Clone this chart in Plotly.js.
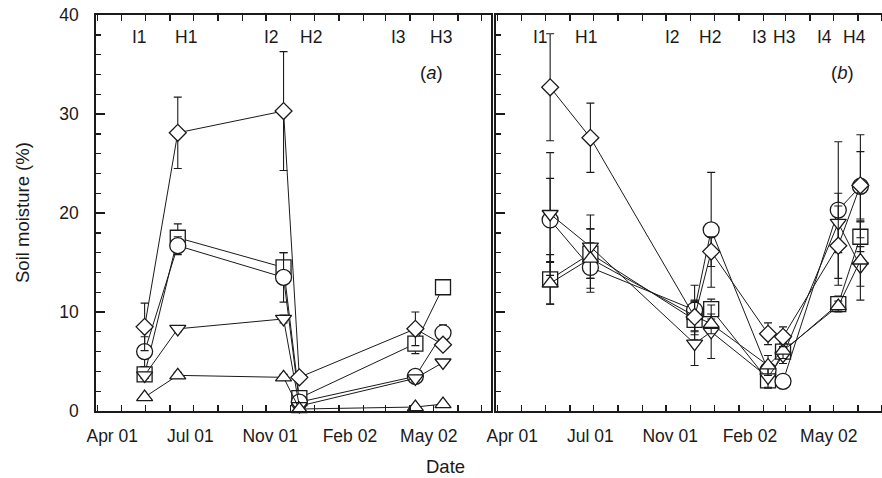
<!DOCTYPE html>
<html>
<head>
<meta charset="utf-8">
<script src="https://cdn.plot.ly/plotly-3.0.1.min.js"></script>
<style>
html,body{margin:0;padding:0;overflow:hidden;background:#fff;}
#chart{width:892px;height:478px;}
</style>
</head>
<body>
<div id="chart"></div>
<script>
// ---------- data ----------
// Panel (a)
const datesA = ['2001-04-30','2001-06-11','2001-10-23','2001-11-12','2002-04-08','2002-05-13'];
const diamondA = [8.5, 28.1, 30.3, 3.4, 8.3, 6.7];
const circleA  = [6.0, 16.7, 13.5, 0.9, 3.5, 7.9];
const squareA  = [3.7, 17.5, 14.5, 1.3, 6.8, 12.5];
const downA    = [3.6, 8.3, 9.3, 0.5, 3.3, 4.9];
const upA      = [1.4, 3.6, 3.4, 0.2, 0.4, 0.7];
const diamondAErr = [2.4, 3.6, 6.0, 0.2, 1.7, 0.2];
const circleAErr  = [1.5, 0.9, 2.5, 0.2, 0.4, 0.8];
const squareAErr  = [0.7, 1.4, 1.5, 0.2, 1.0, 0.2];
const downAErr    = [0.3, 0.3, 0.4, 0.1, 0.3, 0.3];
const upAErr      = [0.2, 0.3, 0.3, 0.1, 0.1, 0.2];

// Panel (b)
const datesB = ['2001-05-07','2001-06-27','2001-11-06','2001-11-27','2002-02-07','2002-02-26','2002-05-07','2002-06-04'];
const diamondB = [32.7, 27.6, 9.5, 16.1, 7.8, 7.5, 16.7, 22.8];
const circleB  = [19.3, 14.5, 10.2, 18.3, 4.1, 3.0, 20.3, 22.7];
const downB    = [19.9, 16.6, 6.8, 8.0, 3.4, 5.6, 19.0, 14.6];
const squareB  = [13.3, 15.9, 9.2, 10.3, 3.1, 6.0, 10.8, 17.6];
const upB      = [12.9, 15.4, 9.6, 8.8, 4.6, 6.1, 10.6, 15.2];
const diamondBErr = [5.4, 3.5, 1.5, 1.5, 1.1, 1.0, 4.0, 3.4];
const circleBErr  = [4.2, 2.5, 2.5, 5.8, 0.8, 0.5, 6.9, 5.2];
const downBErr    = [6.2, 3.2, 2.2, 2.7, 1.0, 0.8, 3.0, 2.0];
const squareBErr  = [2.5, 2.5, 2.0, 1.0, 0.8, 0.8, 0.8, 1.5];
const upBErr      = [2.1, 3.0, 1.5, 1.0, 1.0, 0.8, 0.5, 4.0];

// axis tick labels
const tickText = ['Apr 01','Jul 01','Nov 01','Feb 02','May 02'];
const yTickVals = [0, 10, 20, 30, 40];

// event labels
const eventsA = ['I1','H1','I2','H2','I3','H3'];
const eventsB = ['I1','H1','I2','H2','I3','H3','I4','H4'];

// ---------- layout positions ----------
const tickPos = ['2001-03-20','2001-06-27','2001-10-06','2002-01-15','2002-04-25'];
const eventPosA = ['2001-04-23','2001-06-21','2001-10-08','2001-11-27','2002-03-18','2002-05-10'];
const eventPosB = ['2001-04-25','2001-06-22','2001-10-09','2001-11-26','2002-01-27','2002-02-27','2002-04-20','2002-05-27'];
const xRange = ['2001-02-27 10:00','2002-07-12 19:00'];

const INK = '#1a1a1a';
const FONT = 'Liberation Sans, Arial, Helvetica, sans-serif';

function series(x, y, err, symbol, size, xa, ya) {
  return {
    type: 'scatter', mode: 'lines+markers', x: x, y: y,
    xaxis: xa, yaxis: ya, cliponaxis: false, showlegend: false,
    line: {color: INK, width: 1},
    marker: {symbol: symbol, size: size, color: '#ffffff', line: {color: INK, width: 1.3}},
    error_y: {type: 'data', array: err, visible: true, color: INK, thickness: 1.1, width: 4}
  };
}

const traces = [
  series(datesA, squareA, squareAErr, 'square', 15, 'x', 'y'),
  series(datesA, circleA, circleAErr, 'circle', 16, 'x', 'y'),
  series(datesA, downA, downAErr, 'triangle-down', 14, 'x', 'y'),
  series(datesA, upA, upAErr, 'triangle-up', 14, 'x', 'y'),
  series(datesA, diamondA, diamondAErr, 'diamond', 13, 'x', 'y'),
  series(datesB, squareB, squareBErr, 'square', 15, 'x2', 'y2'),
  series(datesB, circleB, circleBErr, 'circle', 16, 'x2', 'y2'),
  series(datesB, downB, downBErr, 'triangle-down', 14, 'x2', 'y2'),
  series(datesB, upB, upBErr, 'triangle-up', 14, 'x2', 'y2'),
  series(datesB, diamondB, diamondBErr, 'diamond', 13, 'x2', 'y2')
];

function xAxis(domain, anchor) {
  return {
    type: 'date', domain: domain, anchor: anchor, range: xRange,
    tickmode: 'array', tickvals: tickPos, ticktext: tickText,
    ticks: 'inside', ticklen: 0, tickcolor: INK,
    minor: {ticks: 'inside', ticklen: 6, tickwidth: 1.4, tickcolor: INK, dtick: 'M1', tick0: '2001-04-01', showgrid: false},
    showline: true, linewidth: 1.8, linecolor: INK, mirror: 'ticks',
    showgrid: false, zeroline: false,
    tickfont: {family: FONT, size: 17.5, color: INK}, ticklabelstandoff: 8
  };
}
function yAxis(anchor, labels) {
  return {
    domain: [0, 1], anchor: anchor, range: [0, 40],
    tickmode: 'array', tickvals: yTickVals, showticklabels: labels,
    ticks: 'inside', ticklen: 9, tickwidth: 1.4, tickcolor: INK,
    minor: {ticks: 'inside', ticklen: 5, tickwidth: 1.4, tickcolor: INK, dtick: 2, tick0: 0, showgrid: false},
    showline: true, linewidth: 1.8, linecolor: INK, mirror: true,
    showgrid: false, zeroline: false,
    tickfont: {family: FONT, size: 17.5, color: INK}, ticklabelstandoff: 12
  };
}

const annotations = [];
eventsA.forEach((t, i) => annotations.push({
  text: t, xref: 'x', yref: 'paper', x: eventPosA[i], y: 1, yshift: -22,
  xanchor: 'center', yanchor: 'middle', showarrow: false,
  font: {family: FONT, size: 17.5, color: INK}
}));
eventsB.forEach((t, i) => annotations.push({
  text: t, xref: 'x2', yref: 'paper', x: eventPosB[i], y: 1, yshift: -22,
  xanchor: 'center', yanchor: 'middle', showarrow: false,
  font: {family: FONT, size: 17.5, color: INK}
}));
annotations.push({text: '(<i>a</i>)', xref: 'paper', yref: 'paper', x: (431 - 96) / 795, y: 1, yshift: -57,
  xanchor: 'center', yanchor: 'middle', showarrow: false, font: {family: FONT, size: 18.5, color: INK}});
annotations.push({text: '(<i>b</i>)', xref: 'paper', yref: 'paper', x: (842.5 - 96) / 795, y: 1, yshift: -57,
  xanchor: 'center', yanchor: 'middle', showarrow: false, font: {family: FONT, size: 18.5, color: INK}});
annotations.push({text: 'Date', xref: 'paper', yref: 'paper', x: (445 - 96) / 795, y: 0, yshift: -55,
  xanchor: 'center', yanchor: 'middle', showarrow: false, font: {family: FONT, size: 18.5, color: INK}});
annotations.push({text: 'Soil moisture (%)', xref: 'paper', yref: 'paper', x: 0, xshift: -74, y: 0.5,
  textangle: -90, xanchor: 'center', yanchor: 'middle', showarrow: false, font: {family: FONT, size: 18.5, color: INK}});

const layout = {
  width: 892, height: 478,
  margin: {l: 96, r: 1, t: 15, b: 67, pad: 0},
  paper_bgcolor: '#ffffff', plot_bgcolor: '#ffffff',
  font: {family: FONT, color: INK},
  xaxis: xAxis([0, 395 / 795], 'y'),
  yaxis: yAxis('x', true),
  xaxis2: xAxis([400 / 795, 1], 'y2'),
  yaxis2: yAxis('x2', false),
  annotations: annotations,
  showlegend: false
};

Plotly.newPlot('chart', traces, layout, {displayModeBar: false, staticPlot: true});
</script>
</body>
</html>
